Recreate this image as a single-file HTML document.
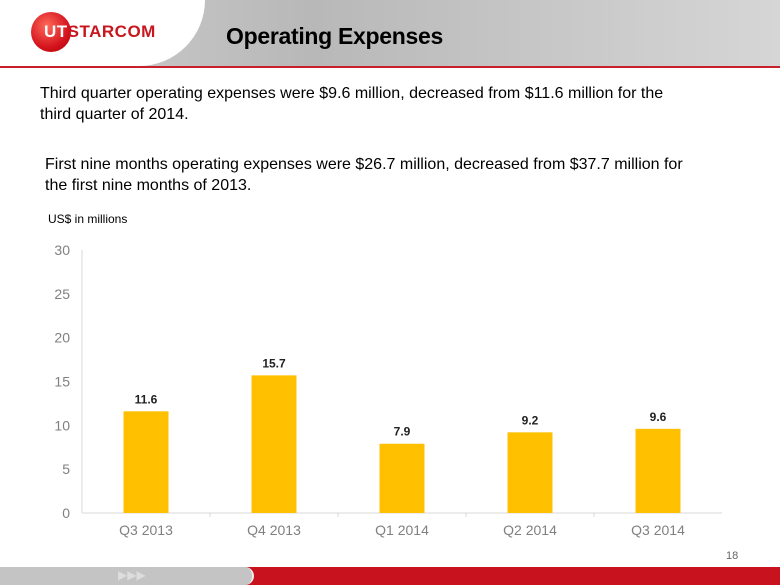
<!DOCTYPE html>
<html><head><meta charset="utf-8"><style>
body{margin:0;width:780px;height:585px;overflow:hidden;background:#fff;font-family:"Liberation Sans",sans-serif;position:relative}
.abs{position:absolute}
</style></head><body>
<div class="abs" style="left:0;top:0;width:780px;height:66px;background:linear-gradient(90deg,#d0d0d0,#b8b8b8 40%,#d6d6d6)"></div>
<div class="abs" style="left:0;top:0;width:205px;height:66px;background:#fff;border-radius:0 0 90px 0"></div>
<div class="abs" style="left:0;top:66px;width:780px;height:2px;background:#c8202a"></div>
<div class="abs" style="left:31px;top:12px;width:40px;height:40px;border-radius:50%;background:radial-gradient(circle at 40% 35%,#ff6a5a,#d4141e 60%,#a00)"></div>
<div class="abs" style="left:44px;top:22px;font-weight:bold;font-size:17px;color:#c8161e;letter-spacing:0.5px"><span style="color:#fff">UT</span>STARCOM</div>
<div class="abs" style="left:226px;top:23px;font-size:23px;font-weight:bold;color:#000;letter-spacing:-0.3px">Operating Expenses</div>
<div class="abs" style="left:40px;top:83px;font-size:16px;line-height:21px;color:#000;width:680px">Third quarter operating expenses were $9.6 million, decreased from $11.6 million for the<br>third quarter of 2014.</div>
<div class="abs" style="left:45px;top:154px;font-size:16px;line-height:21px;color:#000;width:680px">First nine months operating expenses were $26.7 million, decreased from $37.7 million for<br>the first nine months of 2013.</div>
<div class="abs" style="left:48px;top:212px;font-size:12px;color:#000">US$ in millions</div>
<svg class="abs" style="left:0;top:0" width="780" height="585" id="chart"></svg>
<div class="abs" style="left:726px;top:550px;font-size:11px;color:#666">18</div>
<div class="abs" style="left:0;top:567px;width:780px;height:18px;background:#c8131f"></div>
<div class="abs" style="left:0;top:567px;width:252px;height:18px;background:#c4c4c4;border-radius:0 9px 9px 0;border-right:2px solid #eee"></div>
<div class="abs" style="left:118px;top:568px;font-size:12px;color:#ddd">▶▶▶</div>
<script>
const categories=["Q3 2013","Q4 2013","Q1 2014","Q2 2014","Q3 2014"];
const values=[11.6,15.7,7.9,9.2,9.6];
const ticks=[0,5,10,15,20,25,30];
const svg=document.getElementById('chart');
const NS='http://www.w3.org/2000/svg';
const x0=82,x1=722,y0=513,y1=250,ymax=30;
const y=v=>y0-(v/ymax)*(y0-y1);
const bw=(x1-x0)/categories.length;
function mk(t,a){const e=document.createElementNS(NS,t);for(const k in a)e.setAttribute(k,a[k]);svg.appendChild(e);return e;}
let ax=mk('line',{x1:x0,y1:y1,x2:x0,y2:y0,stroke:'#d9d9d9'});


let bx=mk('line',{x1:x0,y1:y0,x2:x1,y2:y0,stroke:'#d9d9d9'});


ticks.forEach(t=>{const e=mk('text',{x:x0-12,y:y(t)+5,'text-anchor':'end','font-size':14,fill:'#808080','font-family':'Liberation Sans, sans-serif'});e.textContent=t;

});
categories.forEach((c,i)=>{const cx=x0+bw*(i+0.5);const v=values[i];
const r=mk('rect',{x:cx-22.5,y:y(v),width:45,height:y0-y(v),fill:'#ffc000'});


const l=mk('text',{x:cx,y:y(v)-8,'text-anchor':'middle','font-size':12,'font-weight':'bold',fill:'#222','font-family':'Liberation Sans, sans-serif'});l.textContent=v.toFixed(1);


const t=mk('text',{x:cx,y:y0+22,'text-anchor':'middle','font-size':14,fill:'#808080','font-family':'Liberation Sans, sans-serif'});t.textContent=c;


if(i>0){const tk=mk('line',{x1:x0+bw*i,y1:y0,x2:x0+bw*i,y2:y0+4,stroke:'#d9d9d9'});

}
});
</script>
</body></html>
